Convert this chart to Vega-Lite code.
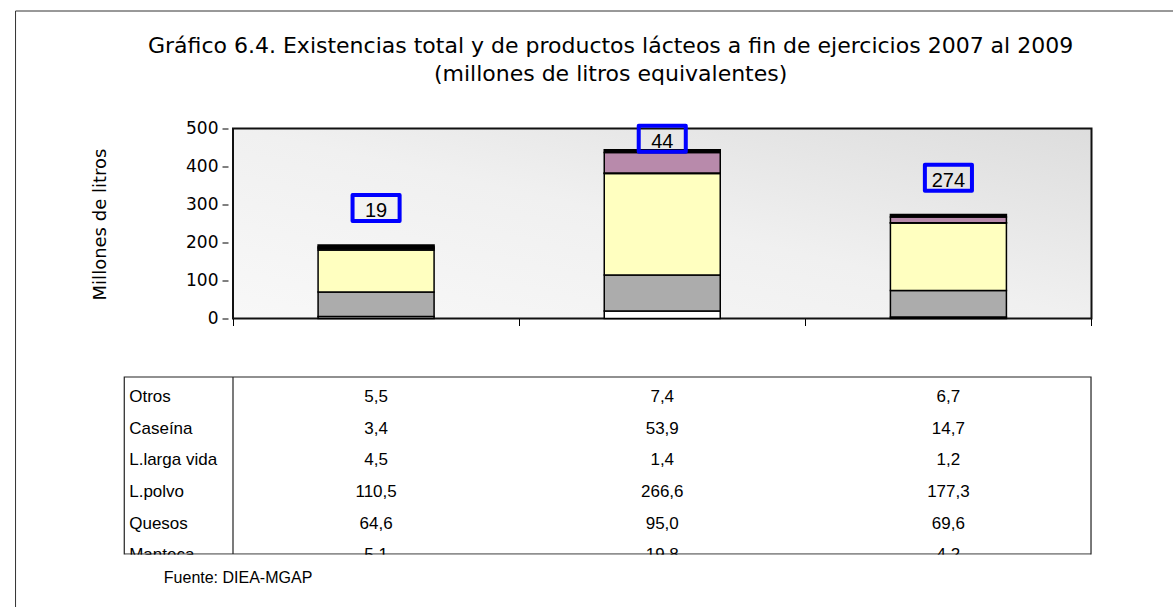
{
  "$schema": "https://vega.github.io/schema/vega-lite/v6.json",
  "width": 868.5,
  "height": 190,
  "autosize": {"type": "none"},
  "padding": {"left": 228, "top": 128.5, "right": 76.5, "bottom": 288.5},
  "background": "white",
  "config": {
    "view": {"stroke": null},
    "font": "Liberation Sans",
    "locale": {"number": {"decimal": ",", "thousands": ".", "grouping": [3], "currency": ["", ""]}}
  },
  "datasets": {
    "existencias": [
      {"anio": 2007, "serie": "Manteca", "valor": 5.1},
      {"anio": 2007, "serie": "Quesos", "valor": 64.6},
      {"anio": 2007, "serie": "L.polvo", "valor": 110.5},
      {"anio": 2007, "serie": "L.larga vida", "valor": 4.5},
      {"anio": 2007, "serie": "Caseína", "valor": 3.4},
      {"anio": 2007, "serie": "Otros", "valor": 5.5},
      {"anio": 2008, "serie": "Manteca", "valor": 19.8},
      {"anio": 2008, "serie": "Quesos", "valor": 95.0},
      {"anio": 2008, "serie": "L.polvo", "valor": 266.6},
      {"anio": 2008, "serie": "L.larga vida", "valor": 1.4},
      {"anio": 2008, "serie": "Caseína", "valor": 53.9},
      {"anio": 2008, "serie": "Otros", "valor": 7.4},
      {"anio": 2009, "serie": "Manteca", "valor": 4.2},
      {"anio": 2009, "serie": "Quesos", "valor": 69.6},
      {"anio": 2009, "serie": "L.polvo", "valor": 177.3},
      {"anio": 2009, "serie": "L.larga vida", "valor": 1.2},
      {"anio": 2009, "serie": "Caseína", "valor": 14.7},
      {"anio": 2009, "serie": "Otros", "valor": 6.7}
    ],
    "etiquetas": [
      {"anio": 2007, "etiqueta": "19"},
      {"anio": 2008, "etiqueta": "44"},
      {"anio": 2009, "etiqueta": "274"}
    ]
  },
  "layer": [
    {
      "data": {"values": [{}]},
      "mark": {
        "type": "rect",
        "fill": {"gradient": "linear", "x1": 0, "y1": 1, "x2": 1, "y2": 0, "stops": [{"offset": 0, "color": "#f8f8f8"}, {"offset": 0.5, "color": "#f0f0f0"}, {"offset": 1, "color": "#dddddd"}]},
        "stroke": "#111",
        "strokeWidth": 2
      },
      "encoding": {
        "x": {"datum": 2006.5, "type": "quantitative", "scale": {"domain": [2006.5, 2009.5], "nice": false, "zero": false},
          "axis": {"values": [2006.5, 2007.5, 2008.5, 2009.5], "orient": "bottom", "labels": false, "domain": false, "grid": false, "ticks": true, "tickSize": 7, "tickColor": "#000", "tickWidth": 1, "title": null, "zindex": 1}},
        "x2": {"datum": 2009.5},
        "y": {"datum": 0, "type": "quantitative", "scale": {"domain": [0, 500], "nice": false, "zero": false},
          "axis": {"values": [0, 100, 200, 300, 400, 500], "tickCount": 6, "labelOverlap": false, "labelFlush": false, "labelBound": false, "orient": "left", "domain": false, "grid": false, "ticks": true, "tickSize": 6, "tickColor": "#000", "labelFontSize": 17, "labelColor": "#000", "labelPadding": 4, "labelFont": "DejaVu Sans", "zindex": 1,
            "title": "Millones de litros", "titleFont": "DejaVu Sans", "titleFontSize": 18, "titleFontWeight": "normal", "titleColor": "#000", "titleX": -128, "titleY": 95.5, "titleAngle": -90, "titleAlign": "center", "titleBaseline": "middle"}},
        "y2": {"datum": 500}
      }
    },
    {
      "data": {"values": [{}]},
      "mark": {"type": "rule", "stroke": "#333", "strokeWidth": 1},
      "encoding": {
        "x": {"datum": 2005.74007, "type": "quantitative"},
        "y": {"datum": 809.21, "type": "quantitative"},
        "y2": {"datum": -830}
      }
    },
    {
      "data": {"values": [{}]},
      "mark": {"type": "rule", "stroke": "#333", "strokeWidth": 1},
      "encoding": {
        "x": {"datum": 2005.74007, "type": "quantitative"},
        "x2": {"datum": 2009.9},
        "y": {"datum": 809.21, "type": "quantitative"}
      }
    },
    {
      "data": {"name": "existencias"},
      "transform": [
        {"calculate": "indexof(['Manteca','Quesos','L.polvo','L.larga vida','Caseína','Otros'], datum.serie)", "as": "orden"}
      ],
      "mark": {"type": "bar", "size": 116, "stroke": "#000", "strokeWidth": 1.5},
      "encoding": {
        "x": {"field": "anio", "type": "quantitative"},
        "y": {"field": "valor", "type": "quantitative", "stack": "zero"},
        "color": {"field": "serie", "type": "nominal", "legend": null,
          "scale": {"domain": ["Manteca", "Quesos", "L.polvo", "L.larga vida", "Caseína", "Otros"], "range": ["#ffffff", "#acacac", "#ffffc0", "#1a1a1a", "#b88aab", "#000000"]}},
        "order": {"field": "orden", "type": "quantitative"}
      }
    },
    {
      "data": {"name": "existencias"},
      "transform": [
        {"aggregate": [{"op": "sum", "field": "valor", "as": "total"}], "groupby": ["anio"]},
        {"lookup": "anio", "from": {"data": {"name": "etiquetas"}, "key": "anio", "fields": ["etiqueta"]}},
        {"calculate": "min(datum.total + 97, 473)", "as": "posicion"}
      ],
      "mark": {"type": "text", "fontSize": 20, "baseline": "middle", "align": "center", "dy": 3, "color": "#000", "font": "Liberation Sans"},
      "encoding": {
        "x": {"field": "anio", "type": "quantitative"},
        "y": {"field": "posicion", "type": "quantitative"},
        "text": {"field": "etiqueta"}
      }
    },
    {
      "data": {"name": "existencias"},
      "transform": [
        {"aggregate": [{"op": "sum", "field": "valor", "as": "total"}], "groupby": ["anio"]},
        {"calculate": "min(datum.total + 97, 473)", "as": "posicion"}
      ],
      "mark": {"type": "point", "shape": "M-1.81,-1H1.81V1H-1.81Z", "size": 676, "filled": false, "stroke": "#0000ff", "strokeWidth": 4, "opacity": 1, "strokeJoin": "round"},
      "encoding": {
        "x": {"field": "anio", "type": "quantitative"},
        "y": {"field": "posicion", "type": "quantitative"}
      }
    },
    {
      "data": {"values": [{}]},
      "mark": {"type": "rect", "fillOpacity": 0, "stroke": "#222", "strokeWidth": 1.2},
      "encoding": {
        "x": {"datum": 2006.12004, "type": "quantitative"},
        "x2": {"datum": 2009.4983},
        "y": {"datum": -153.95, "type": "quantitative"},
        "y2": {"datum": -619.74}
      }
    },
    {
      "data": {"values": [{}]},
      "mark": {"type": "rule", "stroke": "#222", "strokeWidth": 1.2},
      "encoding": {
        "x": {"datum": 2006.5, "type": "quantitative"},
        "y": {"datum": -153.95, "type": "quantitative"},
        "y2": {"datum": -619.74}
      }
    },
    {
      "data": {"name": "existencias"},
      "transform": [{"filter": "datum.serie == 'Otros'"}],
      "mark": {"type": "text", "fontSize": 17, "align": "center", "baseline": "middle", "color": "#000"},
      "encoding": {"x": {"field": "anio", "type": "quantitative"}, "y": {"datum": -206.58, "type": "quantitative"}, "text": {"field": "valor", "type": "quantitative", "format": ".1f"}}
    },
    {
      "data": {"name": "existencias"},
      "transform": [{"filter": "datum.serie == 'Caseína'"}],
      "mark": {"type": "text", "fontSize": 17, "align": "center", "baseline": "middle", "color": "#000"},
      "encoding": {"x": {"field": "anio", "type": "quantitative"}, "y": {"datum": -289.92, "type": "quantitative"}, "text": {"field": "valor", "type": "quantitative", "format": ".1f"}}
    },
    {
      "data": {"name": "existencias"},
      "transform": [{"filter": "datum.serie == 'L.larga vida'"}],
      "mark": {"type": "text", "fontSize": 17, "align": "center", "baseline": "middle", "color": "#000"},
      "encoding": {"x": {"field": "anio", "type": "quantitative"}, "y": {"datum": -373.24, "type": "quantitative"}, "text": {"field": "valor", "type": "quantitative", "format": ".1f"}}
    },
    {
      "data": {"name": "existencias"},
      "transform": [{"filter": "datum.serie == 'L.polvo'"}],
      "mark": {"type": "text", "fontSize": 17, "align": "center", "baseline": "middle", "color": "#000"},
      "encoding": {"x": {"field": "anio", "type": "quantitative"}, "y": {"datum": -456.58, "type": "quantitative"}, "text": {"field": "valor", "type": "quantitative", "format": ".1f"}}
    },
    {
      "data": {"name": "existencias"},
      "transform": [{"filter": "datum.serie == 'Quesos'"}],
      "mark": {"type": "text", "fontSize": 17, "align": "center", "baseline": "middle", "color": "#000"},
      "encoding": {"x": {"field": "anio", "type": "quantitative"}, "y": {"datum": -539.92, "type": "quantitative"}, "text": {"field": "valor", "type": "quantitative", "format": ".1f"}}
    },
    {
      "data": {"name": "existencias"},
      "transform": [{"filter": "datum.serie == 'Manteca'"}],
      "mark": {"type": "text", "fontSize": 17, "align": "center", "baseline": "middle", "color": "#000"},
      "encoding": {"x": {"field": "anio", "type": "quantitative"}, "y": {"datum": -623.24, "type": "quantitative"}, "text": {"field": "valor", "type": "quantitative", "format": ".1f"}}
    },
    {
      "data": {"name": "existencias"},
      "transform": [{"filter": "datum.serie == 'Otros' && datum.anio == 2007"}],
      "mark": {"type": "text", "fontSize": 17, "align": "left", "baseline": "middle", "color": "#000"},
      "encoding": {"x": {"datum": 2006.13731, "type": "quantitative"}, "y": {"datum": -206.58, "type": "quantitative"}, "text": {"field": "serie"}}
    },
    {
      "data": {"name": "existencias"},
      "transform": [{"filter": "datum.serie == 'Caseína' && datum.anio == 2007"}],
      "mark": {"type": "text", "fontSize": 17, "align": "left", "baseline": "middle", "color": "#000"},
      "encoding": {"x": {"datum": 2006.13731, "type": "quantitative"}, "y": {"datum": -289.92, "type": "quantitative"}, "text": {"field": "serie"}}
    },
    {
      "data": {"name": "existencias"},
      "transform": [{"filter": "datum.serie == 'L.larga vida' && datum.anio == 2007"}],
      "mark": {"type": "text", "fontSize": 17, "align": "left", "baseline": "middle", "color": "#000"},
      "encoding": {"x": {"datum": 2006.13731, "type": "quantitative"}, "y": {"datum": -373.24, "type": "quantitative"}, "text": {"field": "serie"}}
    },
    {
      "data": {"name": "existencias"},
      "transform": [{"filter": "datum.serie == 'L.polvo' && datum.anio == 2007"}],
      "mark": {"type": "text", "fontSize": 17, "align": "left", "baseline": "middle", "color": "#000"},
      "encoding": {"x": {"datum": 2006.13731, "type": "quantitative"}, "y": {"datum": -456.58, "type": "quantitative"}, "text": {"field": "serie"}}
    },
    {
      "data": {"name": "existencias"},
      "transform": [{"filter": "datum.serie == 'Quesos' && datum.anio == 2007"}],
      "mark": {"type": "text", "fontSize": 17, "align": "left", "baseline": "middle", "color": "#000"},
      "encoding": {"x": {"datum": 2006.13731, "type": "quantitative"}, "y": {"datum": -539.92, "type": "quantitative"}, "text": {"field": "serie"}}
    },
    {
      "data": {"name": "existencias"},
      "transform": [{"filter": "datum.serie == 'Manteca' && datum.anio == 2007"}],
      "mark": {"type": "text", "fontSize": 17, "align": "left", "baseline": "middle", "color": "#000"},
      "encoding": {"x": {"datum": 2006.13731, "type": "quantitative"}, "y": {"datum": -623.24, "type": "quantitative"}, "text": {"field": "serie"}}
    },
    {
      "data": {"values": [{}]},
      "mark": {"type": "rect", "fill": "white", "strokeWidth": 0},
      "encoding": {
        "x": {"datum": 2006.1235, "type": "quantitative"},
        "x2": {"datum": 2009.495},
        "y": {"datum": -621.6, "type": "quantitative"},
        "y2": {"datum": -655}
      }
    },
    {
      "data": {"values": [{"texto": "Gráfico 6.4. Existencias total y de productos lácteos a fin de ejercicios 2007 al 2009"}]},
      "mark": {"type": "text", "fontSize": 22, "align": "center", "baseline": "middle", "color": "#000", "font": "DejaVu Sans"},
      "encoding": {
        "x": {"datum": 2007.8195, "type": "quantitative"},
        "y": {"datum": 717.1, "type": "quantitative"},
        "text": {"field": "texto"}
      }
    },
    {
      "data": {"values": [{"texto": "(millones de litros equivalentes)"}]},
      "mark": {"type": "text", "fontSize": 22, "align": "center", "baseline": "middle", "color": "#000", "font": "DejaVu Sans"},
      "encoding": {
        "x": {"datum": 2007.8195, "type": "quantitative"},
        "y": {"datum": 643.4, "type": "quantitative"},
        "text": {"field": "texto"}
      }
    },
    {
      "data": {"values": [{"texto": "Fuente: DIEA-MGAP"}]},
      "mark": {"type": "text", "fontSize": 16, "align": "left", "baseline": "middle", "color": "#000", "font": "Liberation Sans"},
      "encoding": {
        "x": {"datum": 2006.2582, "type": "quantitative"},
        "y": {"datum": -682.9, "type": "quantitative"},
        "text": {"field": "texto"}
      }
    }
  ]
}
